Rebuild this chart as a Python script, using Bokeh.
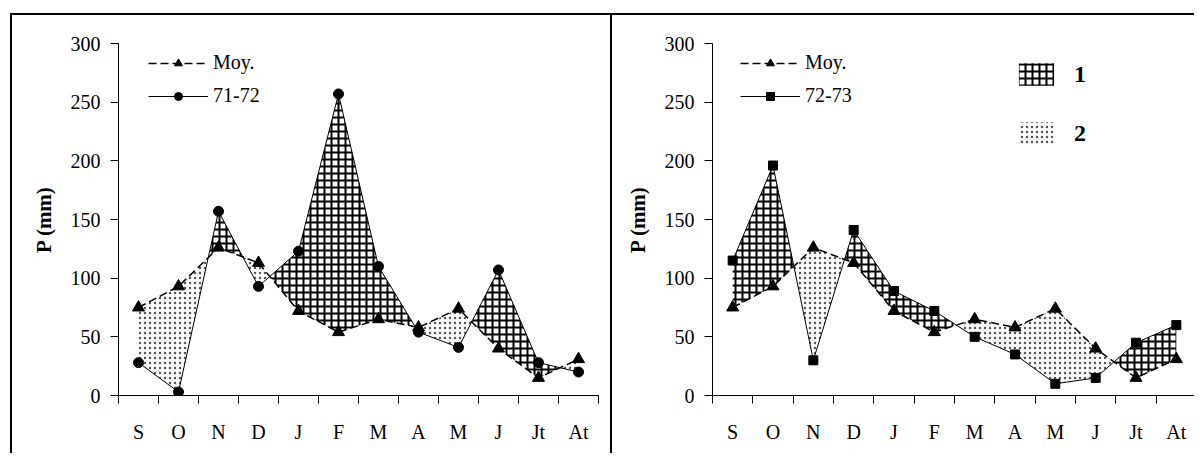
from bokeh.plotting import figure
from bokeh.models import Range1d, FixedTicker, Legend, LegendItem
from bokeh.layouts import row
from bokeh.embed import file_html
from bokeh.resources import INLINE

months = ["S", "O", "N", "D", "J", "F", "M", "A", "M", "J", "Jt", "At"]
moy = [75, 93, 126, 113, 72, 54, 65, 58, 74, 40, 15, 31]
p_7172 = [28, 3, 157, 93, 123, 257, 110, 54, 41, 107, 28, 20]
p_7273 = [115, 196, 30, 141, 89, 72, 50, 35, 10, 15, 45, 60]
y_ticks = [0, 50, 100, 150, 200, 250, 300]

FONT = "Liberation Serif"
H = 440


def regions(a, b):
    n = len(a)
    pts = []
    for i in range(n):
        pts.append((float(i), a[i], b[i]))
        if i < n - 1:
            d0 = a[i] - b[i]
            d1 = a[i + 1] - b[i + 1]
            if d0 * d1 < 0:
                t = d0 / (d0 - d1)
                y = a[i] + t * (a[i + 1] - a[i])
                pts.append((i + t, y, y))
    runs = []
    cur = [pts[0]]
    for pt in pts[1:]:
        cur.append(pt)
        if pt[1] == pt[2]:
            runs.append(cur)
            cur = [pt]
    if len(cur) > 1:
        runs.append(cur)
    pos_xs, pos_ys, neg_xs, neg_ys = [], [], [], []
    for r in runs:
        s = 0
        for pt in r:
            if pt[1] != pt[2]:
                s = 1 if pt[1] > pt[2] else -1
                break
        xs = [pt[0] for pt in r] + [pt[0] for pt in reversed(r)]
        ys = [pt[1] for pt in r] + [pt[2] for pt in reversed(r)]
        if s > 0:
            pos_xs.append(xs); pos_ys.append(ys)
        elif s < 0:
            neg_xs.append(xs); neg_ys.append(ys)
    return pos_xs, pos_ys, neg_xs, neg_ys


def panel(year, label, marker, width, mb_left, mb_right, leg_x, hatch_legend):
    x = list(range(len(months)))
    p = figure(width=width, height=H, x_range=Range1d(-0.5, 11.5), y_range=Range1d(0, 300),
               output_backend="svg", toolbar_location=None,
               min_border_left=mb_left, min_border_right=mb_right,
               min_border_top=28, min_border_bottom=H - 28 - 352)
    p.grid.visible = False
    p.outline_line_color = None
    p.background_fill_color = "white"
    p.border_fill_color = "white"

    xa = p.xaxis[0]
    xa.ticker = FixedTicker(ticks=x, minor_ticks=[i - 0.5 for i in range(13)])
    xa.major_label_overrides = {i: m for i, m in enumerate(months)}
    xa.major_tick_line_color = None
    xa.major_tick_in = 0
    xa.major_tick_out = 0
    xa.minor_tick_in = 0
    xa.minor_tick_out = 8
    xa.minor_tick_line_color = "black"
    xa.major_label_standoff = 17
    xa.major_label_text_font = FONT
    xa.major_label_text_font_size = "20px"
    xa.major_label_text_color = "black"
    xa.axis_line_color = "black"

    ya = p.yaxis[0]
    ya.ticker = FixedTicker(ticks=y_ticks)
    ya.minor_tick_line_color = None
    ya.major_tick_in = 0
    ya.major_tick_out = 8
    ya.major_tick_line_color = "black"
    ya.major_label_standoff = 10
    ya.major_label_text_font = FONT
    ya.major_label_text_font_size = "20px"
    ya.major_label_text_color = "black"
    ya.axis_line_color = "black"
    ya.axis_label = "P (mm)"
    ya.axis_label_text_font = FONT
    ya.axis_label_text_font_style = "bold"
    ya.axis_label_text_font_size = "21px"
    ya.axis_label_text_color = "black"
    ya.axis_label_standoff = 12

    pxs, pys, nxs, nys = regions(year, moy)
    exc = p.patches(pxs, pys, fill_color=None, line_color=None,
                    hatch_pattern="+", hatch_scale=7, hatch_weight=2, hatch_color="black")
    dfc = p.patches(nxs, nys, fill_color=None, line_color=None,
                    hatch_pattern=".", hatch_scale=5, hatch_weight=1, hatch_color="#555555")

    ml = p.line(x, moy, line_dash="8 4", line_width=1.5, color="black")
    mp = p.scatter(x, moy, marker="triangle", size=12, color="black")
    yl = p.line(x, year, line_width=1, color="black")
    yp = p.scatter(x, year, marker=marker, size=10 if marker == "circle" else 9, color="black")

    leg = Legend(items=[LegendItem(label="Moy.", renderers=[ml, mp]),
                        LegendItem(label=label, renderers=[yl, yp])],
                 location=(leg_x, 288), glyph_width=60, glyph_height=20, spacing=10,
                 padding=0, margin=0, border_line_color=None, background_fill_alpha=0,
                 label_text_font=FONT, label_text_font_size="20px", label_standoff=5,
                 label_text_color="black", label_height=20)
    p.add_layout(leg)

    if hatch_legend:
        leg2 = Legend(items=[LegendItem(label="1", renderers=[exc]),
                             LegendItem(label="2", renderers=[dfc])],
                      location=(302, 248), glyph_width=44, glyph_height=28, spacing=31,
                      padding=0, margin=0, border_line_color=None, background_fill_alpha=0,
                      label_text_font=FONT, label_text_font_size="24px",
                      label_text_color="black",
                      label_text_font_style="bold", label_standoff=16)
        p.add_layout(leg2)

    p.styles = {"border-top": "2px solid black", "border-left": "2px solid black"}
    return p


p1 = panel(p_7172, "71-72", "circle", 600, 106, 14, 30, False)
p2 = panel(p_7273, "72-73", "square", 584, 100, 0, 28, True)
p1.margin = (13, 0, 0, 10)
p2.margin = (13, 0, 0, 0)

layout = row(p1, p2)
open("out.html", "w").write(file_html(layout, INLINE))
